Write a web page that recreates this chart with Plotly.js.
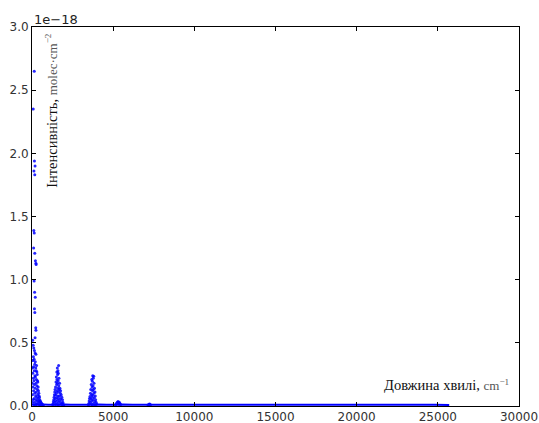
<!DOCTYPE html>
<html>
<head>
<meta charset="utf-8">
<script src="https://cdn.plot.ly/plotly-3.0.1.min.js"></script>
<style>
  html, body { margin: 0; padding: 0; background: #fff; }
  #chart { width: 539px; height: 423px; }
</style>
</head>
<body>
<div id="chart"></div>
<script>
// Line intensities in units of 1e-18 molec·cm^-2, wavenumbers in cm^-1.

// Pure rotational band
const rotX = [140, 75, 150, 190, 120, 170,
  110, 140, 100, 170, 210, 240, 255,
  130, 160, 200, 150, 175, 230, 240, 190,
  40, 70, 110, 150, 190, 240, 90, 130, 60, 200, 170, 280, 100, 230, 30, 260, 140, 300, 50,
  320, 180, 210, 90, 270, 340, 120, 360, 20, 240, 150, 300, 380, 60, 200, 330, 400, 100,
  260, 420, 170, 350, 30, 440, 220, 290, 460, 130, 380, 480, 80, 250, 500, 410, 320, 520,
  180, 550, 450, 40, 580, 360, 620, 270, 490, 660, 110, 700, 560, 230, 420];
const rotY = [2.65, 2.35, 1.94, 1.90, 1.86, 1.83,
  1.39, 1.37, 1.25, 1.21, 1.15, 1.13, 1.12,
  0.99, 0.90, 0.86, 0.77, 0.74, 0.62, 0.60, 0.54,
  0.52, 0.48, 0.46, 0.44, 0.42, 0.41, 0.39, 0.37, 0.36, 0.35, 0.33, 0.32, 0.31, 0.30, 0.30, 0.28, 0.28, 0.27, 0.26,
  0.25, 0.24, 0.23, 0.22, 0.21, 0.20, 0.20, 0.19, 0.18, 0.18, 0.17, 0.16, 0.15, 0.15, 0.14, 0.13, 0.12, 0.12,
  0.11, 0.10, 0.10, 0.09, 0.09, 0.08, 0.08, 0.07, 0.07, 0.06, 0.06, 0.05, 0.05, 0.05, 0.04, 0.04, 0.04, 0.035,
  0.03, 0.03, 0.03, 0.03, 0.02, 0.02, 0.015, 0.015, 0.012, 0.01, 0.01, 0.006, 0.005, 0.005, 0.004];

// Bending fundamental band
const bendX = [1640, 1560, 1600, 1530, 1620, 1580, 1500, 1660, 1540, 1610, 1480, 1700, 1570, 1520,
  1650, 1450, 1720, 1590, 1420, 1680, 1550, 1760, 1400, 1630, 1500, 1740, 1380, 1800, 1460, 1600,
  1700, 1360, 1840, 1530, 1660, 1430, 1780, 1340, 1880, 1580, 1480, 1720, 1320, 1900, 1640, 1400,
  1820, 1300, 1540, 1920, 1760, 1450, 1280, 1860, 1620, 1950];
const bendY = [0.32, 0.30, 0.28, 0.27, 0.26, 0.25, 0.23, 0.22, 0.21, 0.20, 0.19, 0.18, 0.18, 0.17,
  0.16, 0.15, 0.14, 0.14, 0.13, 0.13, 0.12, 0.12, 0.11, 0.11, 0.10, 0.10, 0.09, 0.09, 0.085, 0.08,
  0.08, 0.07, 0.07, 0.065, 0.06, 0.06, 0.055, 0.05, 0.05, 0.045, 0.04, 0.04, 0.035, 0.03, 0.03, 0.03,
  0.025, 0.02, 0.02, 0.015, 0.015, 0.012, 0.01, 0.01, 0.008, 0.006];

// Stretching fundamentals
const stretchX = [3740, 3800, 3770, 3680, 3720, 3820, 3650, 3760, 3700, 3850, 3620, 3780, 3730,
  3880, 3600, 3810, 3670, 3750, 3900, 3570, 3700, 3840, 3540, 3630, 3920, 3760, 3520, 3680, 3860,
  3950, 3590, 3500, 3790, 3980, 3650, 3480, 3900, 3720];
const stretchY = [0.24, 0.235, 0.22, 0.21, 0.195, 0.18, 0.17, 0.16, 0.15, 0.14, 0.13, 0.13, 0.12,
  0.11, 0.10, 0.10, 0.09, 0.085, 0.08, 0.075, 0.07, 0.065, 0.06, 0.055, 0.05, 0.05, 0.04, 0.04, 0.035,
  0.03, 0.03, 0.02, 0.02, 0.015, 0.015, 0.01, 0.008, 0.006];

// Combination and overtone bands
const combX = [5150, 5200, 5250, 5300, 5330, 5350, 5380, 5420, 5460, 7150, 7200, 7250, 7300];
const combY = [0.01, 0.02, 0.03, 0.035, 0.028, 0.015, 0.03, 0.02, 0.012, 0.008, 0.014, 0.016, 0.01];

// Weak lines along the baseline
const weakX = [0, 700, 1000, 1250, 2000, 2400, 2900, 3400, 4100, 4600, 5000, 5600, 6200, 6800, 7500,
  8100, 8800, 9500, 10300, 11000, 11800, 12600, 13300, 14000, 14800, 15500, 16300, 17000, 17800,
  18500, 19300, 20000, 20800, 21600, 22400, 23200, 24000, 24800, 25700];
const weakY = [0.011, 0.011, 0.010, 0.010, 0.011, 0.010, 0.010, 0.010, 0.011, 0.010, 0.010, 0.011, 0.010,
  0.010, 0.010, 0.010, 0.010, 0.010, 0.010, 0.010, 0.010, 0.010, 0.010, 0.010, 0.010, 0.010, 0.010,
  0.010, 0.010, 0.010, 0.010, 0.010, 0.009, 0.009, 0.009, 0.009, 0.009, 0.009, 0.008];

const dot = { color: '#0000ff', size: 3, opacity: 0.85 };

const traces = [
  { x: weakX, y: weakY, type: 'scatter', mode: 'lines',
    line: { color: '#0000ff', width: 2, simplify: false },
    hoverinfo: 'skip' },
  { x: rotX, y: rotY, type: 'scatter', mode: 'markers', marker: dot },
  { x: bendX, y: bendY, type: 'scatter', mode: 'markers', marker: dot },
  { x: stretchX, y: stretchY, type: 'scatter', mode: 'markers', marker: dot },
  { x: combX, y: combY, type: 'scatter', mode: 'markers', marker: dot }
];

const tickFont = { family: 'DejaVu Sans', size: 12, color: '#333' };
const axisBase = {
  showgrid: false, zeroline: false,
  showline: true, linecolor: '#000', linewidth: 1, mirror: 'ticks',
  ticks: 'inside', ticklen: 4, tickcolor: '#000', tickwidth: 1,
  tickfont: tickFont
};

const layout = {
  width: 539, height: 423,
  margin: { l: 32, r: 20, t: 27, b: 17 },
  paper_bgcolor: '#fff', plot_bgcolor: '#fff',
  showlegend: false,
  xaxis: Object.assign({}, axisBase, { range: [0, 30000], tick0: 0, dtick: 5000, tickformat: 'd' }),
  yaxis: Object.assign({}, axisBase, { range: [0, 3], tick0: 0, dtick: 0.5, tickformat: '.1f' }),
  annotations: [
    { text: '1e\u221218', xref: 'paper', yref: 'paper', x: 0, y: 1, xanchor: 'left', yanchor: 'bottom',
      xshift: 0, yshift: -2, showarrow: false,
      font: { family: 'DejaVu Sans', size: 13, color: '#222' } },
    { text: 'Інтенсивність, <span style="color:#555;font-size:13px">molec·cm<sup>\u22122</sup></span>',
      xref: 'paper', yref: 'paper', x: 0.04, y: 0.78, xanchor: 'center', yanchor: 'middle',
      textangle: -90, showarrow: false,
      font: { family: 'Liberation Serif', size: 14.5, color: '#111' } },
    { text: 'Довжина хвилі, <span style="color:#555;font-size:13px">cm<sup>\u22121</sup></span>',
      xref: 'paper', yref: 'paper', x: 0.984, y: 0.055, xanchor: 'right', yanchor: 'middle',
      showarrow: false,
      font: { family: 'Liberation Serif', size: 14.5, color: '#111' } }
  ]
};

Plotly.newPlot('chart', traces, layout, { displayModeBar: false, staticPlot: true });
</script>
</body>
</html>
